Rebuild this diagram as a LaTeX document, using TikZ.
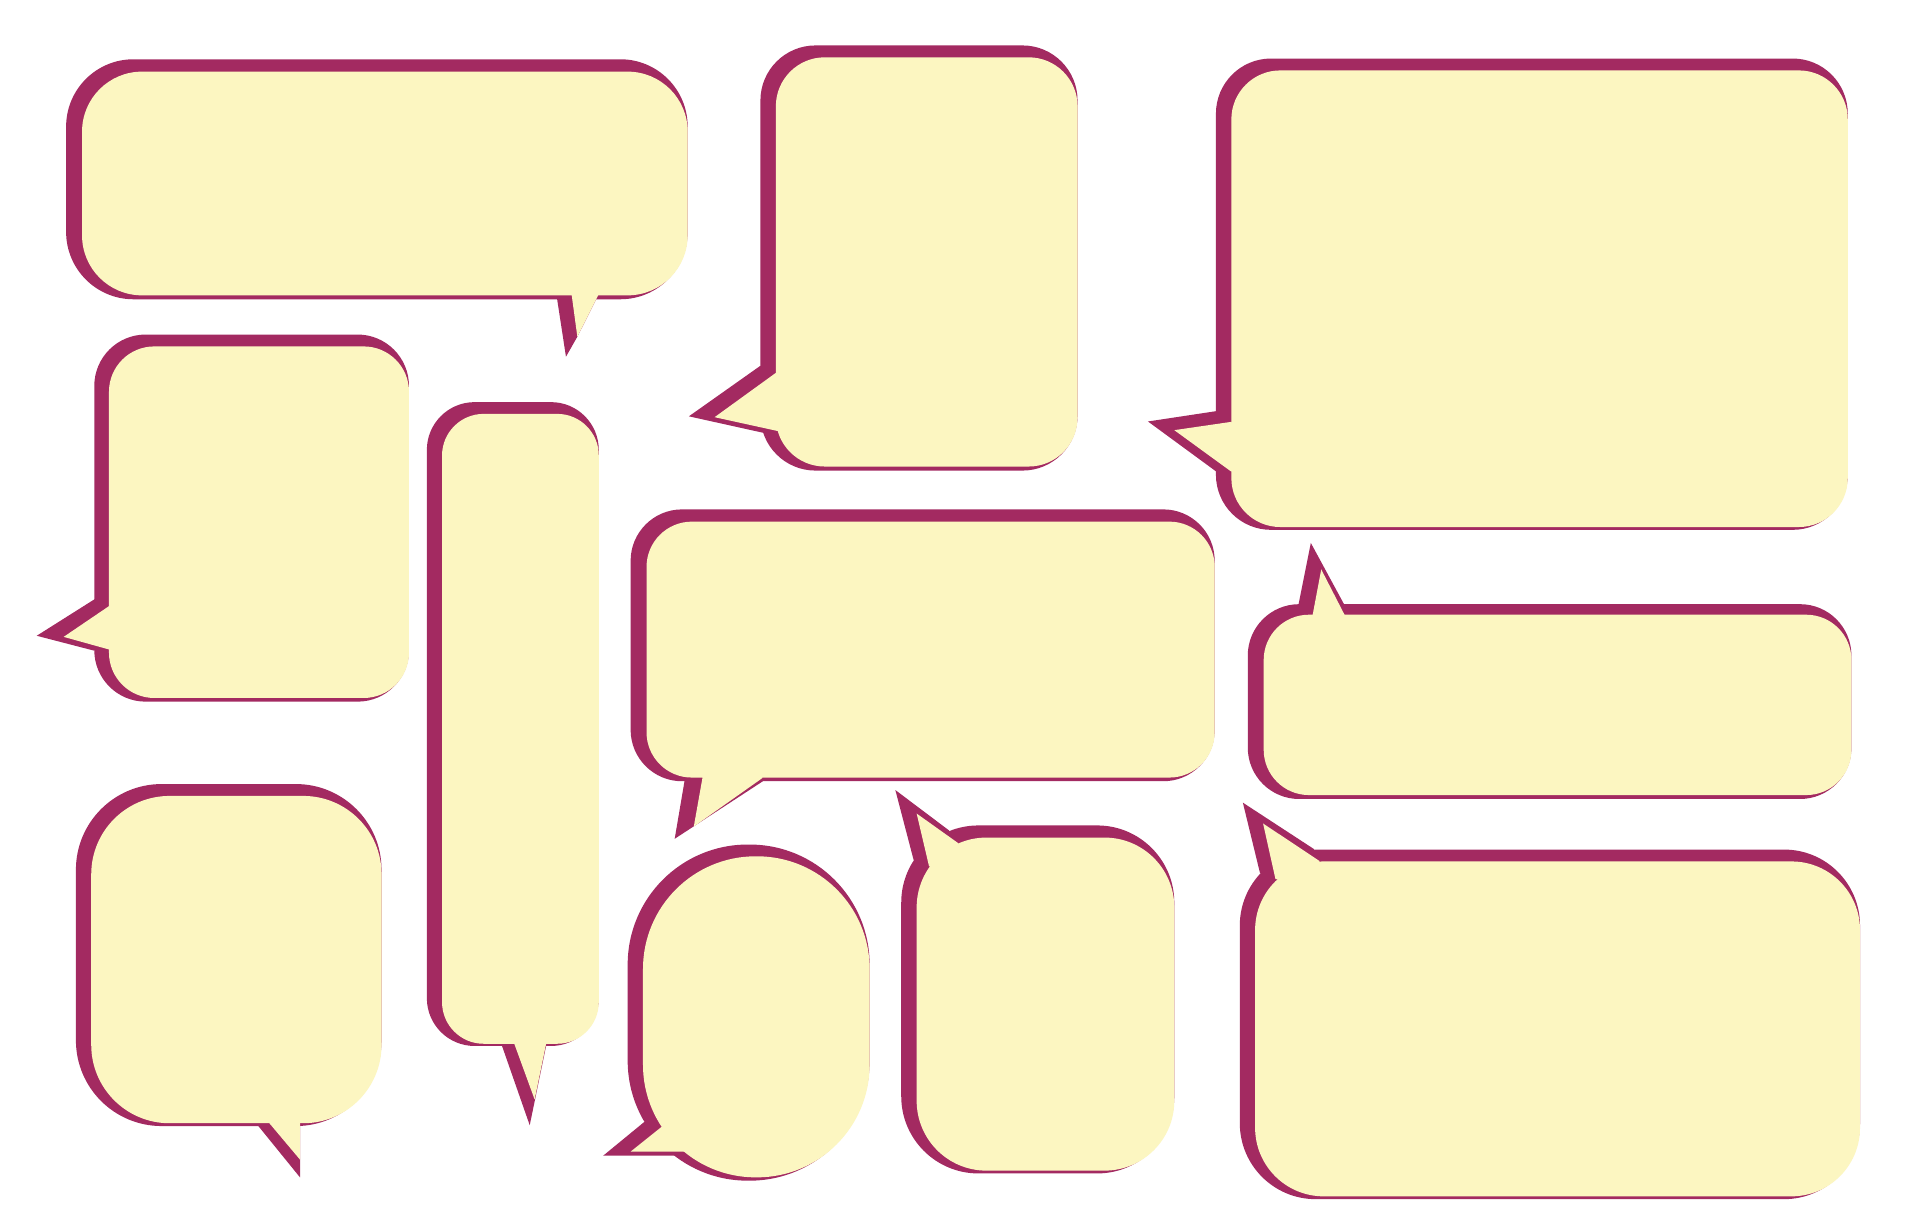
\documentclass[tikz,border=0pt]{standalone}
\definecolor{magc}{HTML}{A32A61}
\definecolor{yelc}{HTML}{FCF6C1}
\begin{document}
\begin{tikzpicture}[x=1pt,y=-1pt, mag/.style={fill=magc}, yel/.style={fill=yelc}]
\fill[white] (0,0) rectangle (1568,1003.7);
\useasboundingbox (0,0) rectangle (1568,1003.7);
% A
\fill[mag,rounded corners=55pt] (54,48.4) rectangle (561.6,244.4);
\fill[mag] (455,238) -- (455,244.4) -- (462.2,291.3) -- (471.5,275) -- (488.6,241) -- (488.6,238) -- cycle;
\fill[yel,rounded corners=49pt] (67,58.5) rectangle (561.6,241.2);
\fill[yel] (466.9,236) -- (466.9,241.2) -- (471.5,275) -- (488.6,241) -- (488.6,236) -- cycle;
% B
\fill[mag,rounded corners=45pt] (621,37.1) rectangle (880,384.3);
\fill[mag] (621,298.7) -- (562.6,340) -- (624,353.6) -- (650,330) -- cycle;
\fill[yel,rounded corners=40pt] (633.6,46.8) rectangle (880,381);
\fill[yel] (633.6,304.5) -- (583.6,340.7) -- (635.1,352) -- (660,330) -- cycle;
% C
\fill[mag,rounded corners=42pt] (77,273.2) rectangle (334,573);
\fill[mag] (77.5,489.2) -- (30,519.2) -- (77,531.4) -- (95,510) -- cycle;
\fill[yel,rounded corners=37pt] (89,282.9) rectangle (334,570);
\fill[yel] (89,495) -- (52,520.1) -- (89,530.4) -- (105,512) -- cycle;
% D
\fill[mag,rounded corners=39pt] (348.6,328.4) rectangle (489,854.2);
\fill[mag] (410,850) -- (410,854.2) -- (432.6,918.9) -- (446,854.2) -- (446,850) -- cycle;
\fill[yel,rounded corners=34pt] (361,338) rectangle (489,852.4);
\fill[yel] (420,848) -- (420,852.4) -- (436.6,897.9) -- (446,852.4) -- (446,848) -- cycle;
% E
\fill[mag,rounded corners=42pt] (515,416) rectangle (992,638);
\fill[mag] (559,634) -- (559,638) -- (551,685) -- (623,638) -- (623,634) -- cycle;
\fill[yel,rounded corners=37pt] (528,426) rectangle (992,635);
\fill[yel] (573.6,631) -- (573.6,635.7) -- (566.6,675) -- (622.6,635.4) -- (622.6,631) -- cycle;
% F
\fill[mag,rounded corners=45pt] (993,47.8) rectangle (1509,432.7);
\fill[mag] (993,335.8) -- (937.5,344.2) -- (993,384.9) -- (1010,360) -- cycle;
\fill[yel,rounded corners=40pt] (1005.6,57.5) rectangle (1509,430.4);
\fill[yel] (1005.6,344.5) -- (959,351.3) -- (1005.6,385.2) -- (1020,365) -- cycle;
% G
\fill[mag,rounded corners=42pt] (1019,493.4) rectangle (1512,652.5);
\fill[mag] (1060.5,493.4) -- (1070.5,443.4) -- (1097.6,493.4) -- (1097.6,500) -- (1062,500) -- cycle;
\fill[yel,rounded corners=37pt] (1032,502) rectangle (1512,649.3);
\fill[yel] (1072,502.1) -- (1079,465) -- (1098,502) -- (1098,508) -- (1072,508) -- cycle;
% H
\fill[mag,rounded corners=70pt] (62,640.3) rectangle (311.6,919.6);
\fill[mag] (211,915) -- (211,919.6) -- (245,961.5) -- (245,915) -- cycle;
\fill[yel,rounded corners=64pt] (74.5,650) rectangle (311.6,917.3);
\fill[yel] (220,913) -- (220,917.3) -- (245,947) -- (245,913) -- cycle;
% I
\fill[mag,rounded corners=98pt] (512.6,689.7) rectangle (710.2,964.2);
\fill[mag] (526.1,916.3) -- (492.6,943.8) -- (551.1,943.8) -- (560,920) -- cycle;
\fill[yel,rounded corners=92pt] (525.1,699.3) rectangle (710.2,961.5);
\fill[yel] (540,920.5) -- (515,940.5) -- (560,940.5) -- (570,920) -- cycle;
% J
\fill[mag,rounded corners=63pt] (736,674.1) rectangle (959,958.3);
\fill[mag] (746.1,702.2) -- (731.2,645.2) -- (775.2,678.3) -- (770,710) -- cycle;
\fill[yel,rounded corners=57pt] (748.6,684) rectangle (959,956);
\fill[yel] (758.7,707.4) -- (748.6,664.4) -- (782.7,688.7) -- (780,715) -- cycle;
% K
\fill[mag,rounded corners=62pt] (1012.5,693.8) rectangle (1519,979.3);
\fill[mag] (1029,713) -- (1015,655.5) -- (1073.2,693.5) -- (1060,720) -- cycle;
\fill[yel,rounded corners=56pt] (1025,703.5) rectangle (1519,977);
\fill[yel] (1041.6,717.8) -- (1031.5,672.5) -- (1077.6,703.2) -- (1070,725) -- cycle;
\end{tikzpicture}
\end{document}
